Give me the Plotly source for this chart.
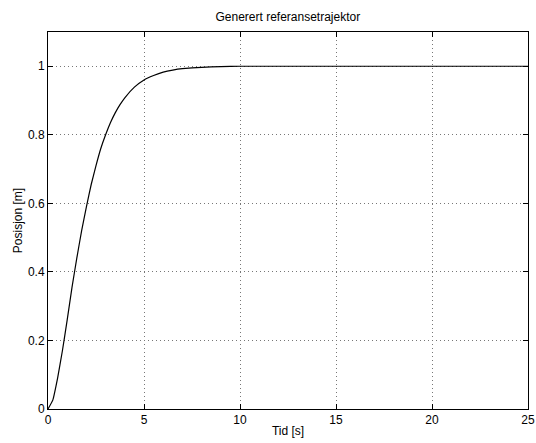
import plotly.graph_objects as go

t_values = [0, 0.25, 0.5, 0.75, 1, 1.25, 1.5, 1.75, 2, 2.25, 2.5, 2.75, 3, 3.25, 3.5, 3.75,
            4, 4.5, 5, 5.5, 6, 6.5, 7, 8, 9, 10, 12, 15, 20, 25]
pos_values = [0, 0.026, 0.09, 0.17, 0.26, 0.355, 0.44, 0.52, 0.59, 0.655, 0.71, 0.76, 0.80,
              0.835, 0.864, 0.888, 0.908, 0.939, 0.96, 0.973, 0.983, 0.989, 0.993, 0.997,
              0.999, 1.0, 1.0, 1.0, 1.0, 1.0]
x_ticks = [0, 5, 10, 15, 20, 25]
y_ticks = [0, 0.2, 0.4, 0.6, 0.8, 1]
y_tick_labels = ["0", "0.2", "0.4", "0.6", "0.8", "1"]

fig = go.Figure()
fig.add_trace(go.Scatter(x=t_values, y=pos_values, mode="lines",
                         line=dict(color="black", width=1.2, shape="spline", smoothing=0.3),
                         showlegend=False))

font = dict(family="Liberation Sans, Arial, sans-serif", size=12, color="black")
axis_common = dict(showline=True, linecolor="black", linewidth=1, mirror="ticks",
                   ticks="inside", ticklen=5, tickcolor="black",
                   showgrid=True, gridcolor="#777777", griddash="1px,3px", gridwidth=1,
                   zeroline=False, tickfont=font, automargin=False)

fig.update_layout(
    width=536, height=443,
    margin=dict(l=48, r=8, t=32, b=34, autoexpand=False),
    paper_bgcolor="white", plot_bgcolor="white",
    title=dict(text="Generert referansetrajektor", x=0.537, xanchor="center",
               y=1 - 17 / 443, yanchor="middle", font=font, automargin=False),
    xaxis=dict(range=[0, 25], tickvals=x_ticks,
               title=dict(text="Tid [s]", font=font, standoff=0), **axis_common),
    yaxis=dict(range=[0, 1.1], tickvals=y_ticks, ticktext=y_tick_labels,
               title=dict(text="Posisjon [m]", font=font, standoff=2), **axis_common),
)

fig.write_html("out.html")
